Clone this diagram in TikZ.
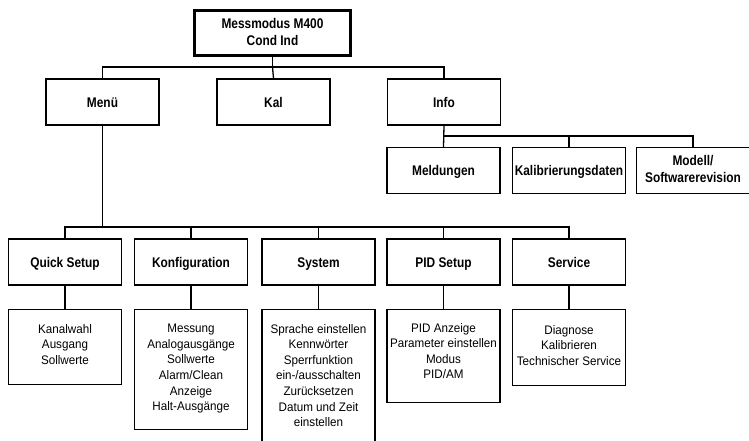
\documentclass[tikz,border=0pt]{standalone}
\usepackage{fontspec}
\setmainfont{Liberation Sans}
\newfontfamily\headfont[FakeStretch=0.85]{Liberation Sans}
\newfontfamily\listfont[FakeStretch=0.94]{Liberation Sans}
\usetikzlibrary{positioning}

\begin{document}
\begin{tikzpicture}[x=1pt,y=-1pt,
	link/.style={line width=1.3pt},
	headbox/.style={draw,line width=1.3pt,minimum width=113pt,minimum height=46pt,inner sep=1pt,align=center,execute at begin node={\vrule width 0pt height 13pt depth 3pt},font=\headfont\bfseries\fontsize{14}{17}\selectfont},
	twoline/.style={execute at begin node={}},
	topbox/.style={headbox,twoline,line width=3.2pt,minimum width=156pt,minimum height=45pt},
	listbox/.style={draw,line width=1.3pt,minimum width=113pt,anchor=north},
	listtext/.style={inner sep=0pt,align=center,font=\listfont\fontsize{12.4}{15.6}\selectfont}]
			\useasboundingbox (0,0) rectangle (749,441);
			\node[topbox] (mode) at (272.5,33) {Messmodus M400\\Cond Ind};
			\node[headbox] (menu) at (102.5,102) {Menü};
			\node[headbox] (kal) at (273.5,102) {Kal};
			\node[headbox] (info) at (444,102) {Info};
			\node[headbox] (meld) at (443.5,170.5) {Meldungen};
			\node[headbox] (kaldat) at (569,170.5) {Kalibrierungsdaten};
			\node[headbox,twoline] (modell) at (693,170.5) {Modell/\\Softwarerevision};
			\node[headbox] (quick) at (65,262) {Quick Setup};
			\node[headbox] (konf) at (191,262) {Konfiguration};
			\node[headbox] (sys) at (318.5,262) {System};
			\node[headbox] (pid) at (443.5,262) {PID Setup};
			\node[headbox] (serv) at (569,262) {Service};
			\node[listbox,minimum height=75pt] (quickList) at (65,309) {};
			\node[listbox,minimum height=120pt] (konfList) at (191,309) {};
			\node[listbox,minimum height=150pt] (sysList) at (318.5,309) {};
			\node[listbox,minimum height=93pt] (pidList) at (443.5,309) {};
			\node[listbox,minimum height=76pt] (servList) at (569,309) {};
			\node[listtext,below=15pt of quickList.north] (quickText) {Kanalwahl\\Ausgang\\Sollwerte};
			\node[listtext,below=15pt of konfList.north] (konfText) {Messung\\Analogausgänge\\Sollwerte\\Alarm/Clean\\Anzeige\\Halt-Ausgänge};
			\node[listtext,below=15pt of sysList.north] (sysText) {Sprache einstellen\\Kennwörter\\Sperrfunktion\\ein-/ausschalten\\Zurücksetzen\\Datum und Zeit\\einstellen};
			\node[listtext,below=14pt of pidList.north] (pidText) {PID Anzeige\\Parameter einstellen\\Modus\\PID/AM};
			\node[listtext,below=16pt of servList.north] (servText) {Diagnose\\Kalibrieren\\Technischer Service};
			\coordinate (topJoin) at (272.5,67);
			\coordinate (infoJoin) at (443.5,136);
			\coordinate (menuJoin) at (102.5,227);
			\draw[link] (mode.south) -- (topJoin);
			\draw[link] (menu.north) |- (topJoin) -| (info.north);
			\draw[link] (topJoin) -- (kal.north);
			\draw[link] (info.south) -- (meld.north);
			\draw[link] (infoJoin) -| (modell.north);
			\draw[link] (kaldat.north) -- (kaldat.north |- infoJoin);
			\draw[link] (menu.south) -- (menuJoin);
			\draw[link] (quick.north) |- (menuJoin) -| (serv.north);
			\foreach \n in {konf,sys,pid}
				\draw[link] (\n.north) -- (\n.north |- menuJoin);
			\foreach \n in {quick,konf,sys,pid,serv}
				\draw[link] (\n.south) -- (\n List.north);
		\end{tikzpicture}
\end{document}
